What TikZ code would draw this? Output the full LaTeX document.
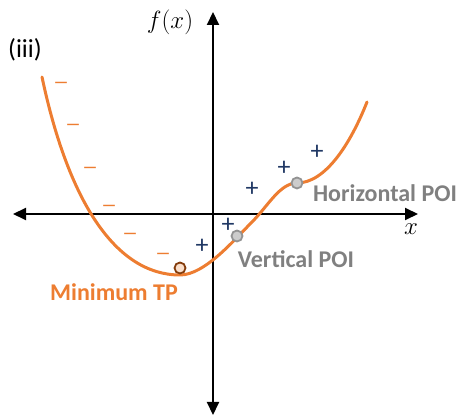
\documentclass[tikz,border=0pt]{standalone}
\usepackage{fontspec}
\setmainfont{Carlito}
\usetikzlibrary{arrows.meta}
\definecolor{orng}{HTML}{ED7D31}
\definecolor{navy}{HTML}{203864}
\definecolor{gry}{HTML}{808080}
\definecolor{brwn}{HTML}{843C0C}
\begin{document}
\begin{tikzpicture}[x=1pt,y=-1pt,
  axis/.style={line width=2pt,-{Triangle[length=13pt,width=12pt]}},
  minus/.style={text=orng,font=\bfseries\fontsize{16}{18}\selectfont},
  plus/.style={text=navy,font=\fontsize{26}{28}\selectfont},
  poi/.style={circle,draw=gry!85,fill=gray!40,line width=1.8pt,minimum size=11pt,inner sep=0pt},
  tp/.style={circle,draw=brwn,fill=orng!25,line width=1.8pt,minimum size=11pt,inner sep=0pt},
  lab/.style={font=\bfseries\fontsize{24}{26}\selectfont}]
\useasboundingbox (0,0) rectangle (459,417);
\coordinate (o) at (213,214);
\coordinate (xl) at (13,214);
\coordinate (xr) at (418,214);
\coordinate (yt) at (213,12);
\coordinate (yb) at (213,415);
\draw[axis] (o) -- (xl);
\draw[axis] (o) -- (xr);
\draw[axis] (o) -- (yt);
\draw[axis] (o) -- (yb);
\draw[orng,line width=3pt,line cap=round] (42,77) .. controls (68,200) and (115,275) .. (180,275)
  .. controls (205,275) and (235,239) .. (252,222)
  .. controls (268,206) and (280,183) .. (297,183)
  .. controls (325,183) and (350,145) .. (367,102);
\node[tp] (tp) at (180,268) {};
\node[poi] (vp) at (237,236) {};
\node[poi] (hp) at (297,183) {};
\foreach \p [count=\i] in {(61,85),(73,127),(90,170),(109,208),(130,236),(163,256)}
  \node[minus] (m\i) at \p {—};
\foreach \p [count=\i] in {(202,246),(228,225),(252,189),(284,168),(317,152)}
  \node[plus] (p\i) at \p {+};
\node[font=\fontsize{26}{28}\selectfont] (iii) at (25,50) {(iii)};
\node[font=\fontsize{27}{29}\selectfont] (fx) at (170,22) {$f(x)$};
\node[font=\fontsize{24}{26}\selectfont] (xx) at (411,229) {$x$};
\node[lab,text=gry] (hl) at (385,193) {Horizontal POI};
\node[lab,text=gry] (vl) at (296,259) {Vertical POI};
\node[lab,text=orng] (ml) at (114,292) {Minimum TP};
\end{tikzpicture}
\end{document}
